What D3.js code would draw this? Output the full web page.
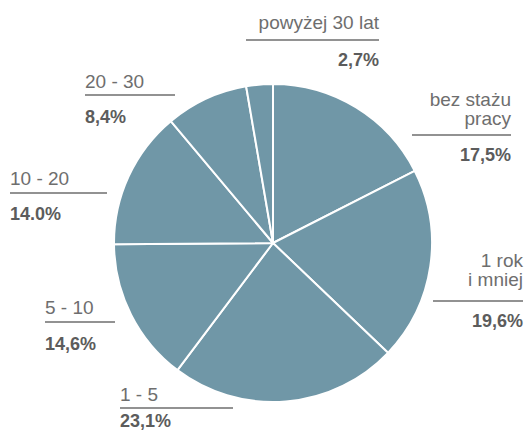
<!DOCTYPE html>
<html>
<head>
<meta charset="utf-8">
<script src="https://cdn.jsdelivr.net/npm/d3@7"></script>
<style>
  html, body { margin: 0; padding: 0; background: #fff; }
  svg { display: block; }
  text { font-family: "Liberation Sans", Arial, Helvetica, sans-serif; }
</style>
</head>
<body>
<svg id="chart" width="527" height="430"></svg>
<script>
// ---- data ----
const categories = ["bez stażu pracy", "1 rok i mniej", "1 - 5", "5 - 10", "10 - 20", "20 - 30", "powyżej 30 lat"];
const labelLines = [["bez stażu", "pracy"], ["1 rok", "i mniej"], ["1 - 5"], ["5 - 10"], ["10 - 20"], ["20 - 30"], ["powyżej 30 lat"]];
const values = [17.5, 19.6, 23.1, 14.6, 14.0, 8.4, 2.7];
const valueLabels = ["17,5%", "19,6%", "23,1%", "14,6%", "14.0%", "8,4%", "2,7%"];

// ---- layout (label placement, px) ----
const W = 527, H = 430;
const cx = 273, cy = 243, R = 159;
const labelLayout = [
  { anchor: "end",   x1: 412, x2: 511, ly: 135, tb: 125, pb: 161 },
  { anchor: "end",   x1: 433, x2: 523, ly: 301, tb: 286, pb: 327 },
  { anchor: "start", x1: 120, x2: 233, ly: 408, tb: 401, pb: 427 },
  { anchor: "start", x1: 45,  x2: 115, ly: 322, tb: 314, pb: 350 },
  { anchor: "start", x1: 10,  x2: 107, ly: 193, tb: 185, pb: 220 },
  { anchor: "start", x1: 85,  x2: 175, ly: 95,  tb: 88,  pb: 123 },
  { anchor: "end",   x1: 246, x2: 379, ly: 40,  tb: 29,  pb: 66 }
];
const lineHeight = 19;
const fillColor = "#7097a7";

const svg = d3.select("#chart");

const pie = d3.pie().sort(null).value(d => d);
const arcs = pie(values);
const arc = d3.arc().innerRadius(0).outerRadius(R);

const g = svg.append("g").attr("transform", `translate(${cx},${cy})`);
g.selectAll("path.slice")
  .data(arcs)
  .enter().append("path")
  .attr("class", "slice")
  .attr("d", arc)
  .attr("fill", fillColor)
  .attr("stroke", "#ffffff")
  .attr("stroke-width", 2)
  .attr("stroke-linejoin", "round");

const labels = svg.append("g").attr("class", "labels");
arcs.forEach((a, i) => {
  const L = labelLayout[i];
  const tx = L.anchor === "end" ? L.x2 : L.x1;
  const lines = labelLines[i];
  const lg = labels.append("g");
  lines.forEach((t, k) => {
    lg.append("text")
      .attr("x", tx)
      .attr("y", L.tb - (lines.length - 1 - k) * lineHeight)
      .attr("text-anchor", L.anchor)
      .attr("font-size", 19)
      .attr("fill", "#6e6e6e")
      .text(t);
  });
  lg.append("line")
    .attr("x1", L.x1).attr("x2", L.x2)
    .attr("y1", L.ly).attr("y2", L.ly)
    .attr("stroke", "#6e6e6e")
    .attr("stroke-width", 1.3);
  lg.append("text")
    .attr("x", tx)
    .attr("y", L.pb)
    .attr("text-anchor", L.anchor)
    .attr("font-size", 18)
    .attr("font-weight", "bold")
    .attr("fill", "#5c5c5c")
    .text(valueLabels[i]);
});
</script>
</body>
</html>
